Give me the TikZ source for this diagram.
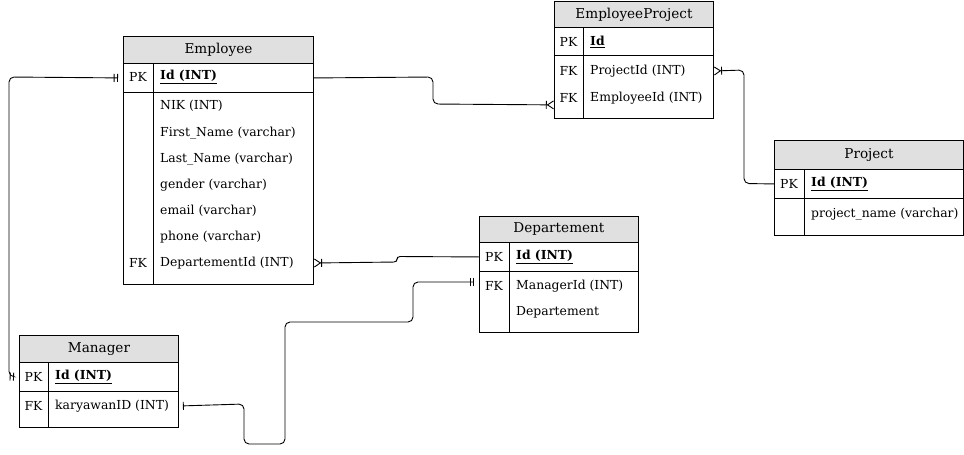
\documentclass[tikz,border=0pt]{standalone}
\usepackage{fontspec}
\setmainfont{DejaVu Serif}
\usepackage{xcolor}
\usetikzlibrary{positioning, arrows.meta}

\definecolor{hdrgray}{HTML}{E0E0E0}

\tikzset{
    tbl/.style={draw, line width=0.9pt, inner sep=0pt, anchor=north west},
    hdr/.style={tbl, fill=hdrgray, font=\fontsize{13.6}{15}\selectfont},
    key/.style={font=\fontsize{12.4}{14}\selectfont, inner sep=0pt},
    fld/.style={anchor=west, font=\fontsize{12.4}{14}\selectfont, inner sep=0pt},
    rel/.style={line width=0.9pt, rounded corners=5pt},
    many/.tip={Bar[width=8pt,sep=0pt]Straight Barb[reversed,length=6pt,width=8pt]},
    mandone/.tip={Bar[width=8pt,sep=2.5pt]Bar[width=8pt,sep=5pt]},
    justone/.tip={Bar[width=8pt,sep=4pt]}
}

\begin{document}
\begin{tikzpicture}[x=1pt, y=-1pt]
    \useasboundingbox (0,0) rectangle (964,455);

    % Employee
    \node[hdr, minimum width=190pt, minimum height=27pt] (emp) at (123,36) {Employee};
    \node[tbl, minimum width=190pt, minimum height=29pt] (empPK) at (123,63) {};
    \node[tbl, minimum width=190pt, minimum height=192pt] (empBody) at (123,92) {};
    \draw[line width=0.9pt] (153,63) -- (153,284);
    \node[key] at (138,77) {PK};
    \node[fld] (empId) at (160,77) {\underline{\textbf{Id (INT)}}};
    \node[fld] (empNik) at (160,106) {NIK (INT)};
    \node[fld] (empFirst) at (160,133) {First\_Name (varchar)};
    \node[fld] (empLast) at (160,159) {Last\_Name (varchar)};
    \node[fld] (empGender) at (160,185) {gender (varchar)};
    \node[fld] (empEmail) at (160,211) {email (varchar)};
    \node[fld] (empPhone) at (160,237) {phone (varchar)};
    \node[key] at (138,263) {FK};
    \node[fld] (empDept) at (160,263) {DepartementId (INT)};

    % EmployeeProject
    \node[hdr, minimum width=159pt, minimum height=26pt] (ep) at (554,1) {EmployeeProject};
    \node[tbl, minimum width=159pt, minimum height=28pt] (epPK) at (554,27) {};
    \node[tbl, minimum width=159pt, minimum height=63pt] (epBody) at (554,55) {};
    \draw[line width=0.9pt] (583,27) -- (583,118);
    \node[key] at (568.5,42) {PK};
    \node[fld] (epId) at (590,42) {\underline{\textbf{Id}}};
    \node[key] at (568.5,71) {FK};
    \node[fld] (epProj) at (590,71) {ProjectId (INT)};
    \node[key] at (568.5,98) {FK};
    \node[fld] (epEmp) at (590,98) {EmployeeId (INT)};

    % Project
    \node[hdr, minimum width=189pt, minimum height=29pt] (pr) at (774,140) {Project};
    \node[tbl, minimum width=189pt, minimum height=29pt] (prPK) at (774,169) {};
    \node[tbl, minimum width=189pt, minimum height=37pt] (prBody) at (774,198) {};
    \draw[line width=0.9pt] (804,169) -- (804,235);
    \node[key] at (789,184) {PK};
    \node[fld] (prId) at (811,184) {\underline{\textbf{Id (INT)}}};
    \node[fld] (prName) at (811,214) {project\_name (varchar)};

    % Departement
    \node[hdr, minimum width=159pt, minimum height=26pt] (dep) at (479,216) {Departement};
    \node[tbl, minimum width=159pt, minimum height=29pt] (depPK) at (479,242) {};
    \node[tbl, minimum width=159pt, minimum height=61pt] (depBody) at (479,271) {};
    \draw[line width=0.9pt] (509,242) -- (509,332);
    \node[key] at (494,257) {PK};
    \node[fld] (depId) at (516,257) {\underline{\textbf{Id (INT)}}};
    \node[key] at (494,286) {FK};
    \node[fld] (depMgr) at (516,286) {ManagerId (INT)};
    \node[fld] (depName) at (516,312) {Departement};

    % Manager
    \node[hdr, minimum width=159pt, minimum height=27pt] (mgr) at (19,335) {Manager};
    \node[tbl, minimum width=159pt, minimum height=29pt] (mgrPK) at (19,362) {};
    \node[tbl, minimum width=159pt, minimum height=36pt] (mgrBody) at (19,391) {};
    \draw[line width=0.9pt] (48,362) -- (48,427);
    \node[key] at (33.5,377) {PK};
    \node[fld] (mgrId) at (55,377) {\underline{\textbf{Id (INT)}}};
    \node[key] at (33.5,406) {FK};
    \node[fld] (mgrKar) at (55,406) {karyawanID (INT)};

    % relations
    \draw[rel, -{many}] (empPK.east) -- (433,77) -- (433,104) -- ([yshift=14pt]epBody.south west);
    \draw[rel, -{many}] (prPK.west) -- (744,183.5) -- (744,70) -- (epBody.east |- epProj);
    \draw[rel, rounded corners=3pt, -{many}] (depPK.west) -- (397,256.5) -- (397,262) -- (empBody.east |- empDept);
    \draw[rel, {justone}-{mandone}] (mgrBody.east |- mgrKar) -- (244,404) -- (244,444) -- (285,444)
        -- (285,322) -- (413,322) -- (413,282) -- (479,282);
    \draw[rel, {mandone}-{mandone}] (empPK.west) -- (9,77) -- (9,376.5) -- (mgrPK.west);
\end{tikzpicture}
\end{document}
